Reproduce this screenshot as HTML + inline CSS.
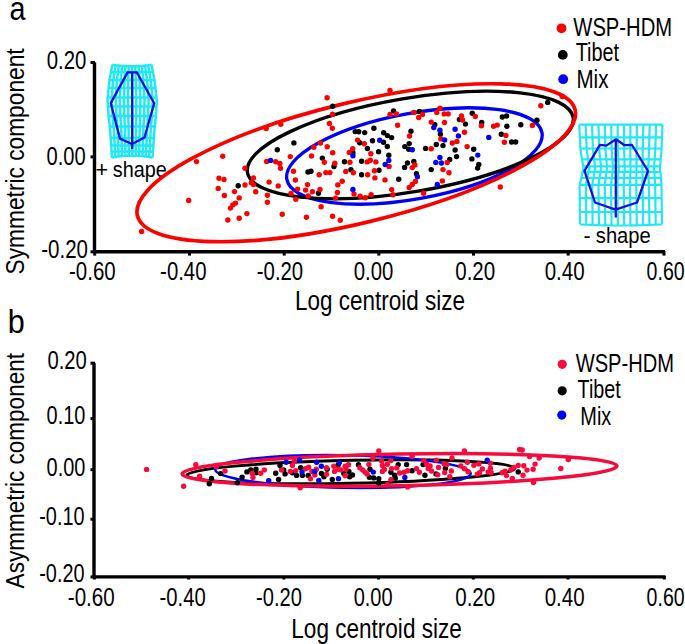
<!DOCTYPE html>
<html><head><meta charset="utf-8"><style>
html,body{margin:0;padding:0;background:#fff;}
svg{display:block;}
text{font-family:"Liberation Sans",sans-serif;fill:#000;}
</style></head><body>
<svg width="685" height="644" viewBox="0 0 685 644">
<rect width="685" height="644" fill="#fff"/>
<text x="9.5" y="20" font-size="33" textLength="16" lengthAdjust="spacingAndGlyphs" text-anchor="start" >a</text>
<text x="7.8" y="332.8" font-size="33" textLength="17" lengthAdjust="spacingAndGlyphs" text-anchor="start" >b</text>
<text transform="translate(23.6,274.4) rotate(-90)" font-size="26.5" textLength="226" lengthAdjust="spacingAndGlyphs">Symmetric component</text>
<text transform="translate(23.6,588.4) rotate(-90)" font-size="26.5" textLength="235.4" lengthAdjust="spacingAndGlyphs">Asymmetric component</text>
<text x="295" y="309.8" font-size="27.5" textLength="170" lengthAdjust="spacingAndGlyphs" text-anchor="start" >Log centroid size</text>
<text x="291.3" y="637.6" font-size="27.5" textLength="170.5" lengthAdjust="spacingAndGlyphs" text-anchor="start" >Log centroid size</text>
<path d="M94.5,62.5 V251.8 H665" fill="none" stroke="#000" stroke-width="3.4"/>
<path d="M90.5,62.5 H95" stroke="#000" stroke-width="3"/>
<path d="M90.5,156.9 H95" stroke="#000" stroke-width="3"/>
<path d="M90.5,251.8 H95" stroke="#000" stroke-width="3"/>
<path d="M94.7,251 V255.6" stroke="#000" stroke-width="3"/>
<path d="M189.5,251 V255.6" stroke="#000" stroke-width="3"/>
<path d="M284.2,251 V255.6" stroke="#000" stroke-width="3"/>
<path d="M378.8,251 V255.6" stroke="#000" stroke-width="3"/>
<path d="M473.5,251 V255.6" stroke="#000" stroke-width="3"/>
<path d="M568.2,251 V255.6" stroke="#000" stroke-width="3"/>
<path d="M664,251 V255.6" stroke="#000" stroke-width="3"/>
<text x="46.69" y="68.6" font-size="25" textLength="39.59" lengthAdjust="spacingAndGlyphs" >0.20</text>
<text x="46.49" y="164.6" font-size="25" textLength="39.18" lengthAdjust="spacingAndGlyphs" >0.00</text>
<text x="41.20" y="257.8" font-size="25" textLength="46.77" lengthAdjust="spacingAndGlyphs" >-0.20</text>
<text x="69.00" y="280.2" font-size="25" textLength="46.66" lengthAdjust="spacingAndGlyphs" >-0.60</text>
<text x="160.11" y="280.2" font-size="25" textLength="46.35" lengthAdjust="spacingAndGlyphs" >-0.40</text>
<text x="256.81" y="280.2" font-size="25" textLength="46.35" lengthAdjust="spacingAndGlyphs" >-0.20</text>
<text x="353.79" y="280.2" font-size="25" textLength="39.59" lengthAdjust="spacingAndGlyphs" >0.00</text>
<text x="455.28" y="280.2" font-size="25" textLength="39.91" lengthAdjust="spacingAndGlyphs" >0.20</text>
<text x="544.68" y="280.2" font-size="25" textLength="39.91" lengthAdjust="spacingAndGlyphs" >0.40</text>
<text x="646.62" y="280.2" font-size="25" textLength="38.03" lengthAdjust="spacingAndGlyphs" >0.60</text>
<path d="M94,363 V576.9 H665.5" fill="none" stroke="#000" stroke-width="3.4"/>
<path d="M90.5,363.2 H95" stroke="#000" stroke-width="3"/>
<path d="M90.5,418.6 H95" stroke="#000" stroke-width="3"/>
<path d="M90.5,469.7 H95" stroke="#000" stroke-width="3"/>
<path d="M90.5,519.2 H95" stroke="#000" stroke-width="3"/>
<path d="M90.5,576.9 H95" stroke="#000" stroke-width="3"/>
<path d="M94.5,576 V579.5" stroke="#000" stroke-width="3"/>
<path d="M188.7,576 V579.5" stroke="#000" stroke-width="3"/>
<path d="M283.9,576 V579.5" stroke="#000" stroke-width="3"/>
<path d="M378.6,576 V579.5" stroke="#000" stroke-width="3"/>
<path d="M473.3,576 V579.5" stroke="#000" stroke-width="3"/>
<path d="M568,576 V579.5" stroke="#000" stroke-width="3"/>
<path d="M664.3,576 V579.5" stroke="#000" stroke-width="3"/>
<text x="47.39" y="369.4" font-size="25" textLength="39.38" lengthAdjust="spacingAndGlyphs" >0.20</text>
<text x="46.60" y="423.8" font-size="25" textLength="38.76" lengthAdjust="spacingAndGlyphs" >0.10</text>
<text x="46.60" y="475.7" font-size="25" textLength="38.76" lengthAdjust="spacingAndGlyphs" >0.00</text>
<text x="39.23" y="524.9" font-size="25" textLength="45.32" lengthAdjust="spacingAndGlyphs" >-0.10</text>
<text x="39.23" y="581.7" font-size="25" textLength="45.32" lengthAdjust="spacingAndGlyphs" >-0.20</text>
<text x="67.79" y="605.5" font-size="25" textLength="46.98" lengthAdjust="spacingAndGlyphs" >-0.60</text>
<text x="159.61" y="605.5" font-size="25" textLength="46.15" lengthAdjust="spacingAndGlyphs" >-0.40</text>
<text x="256.12" y="605.5" font-size="25" textLength="45.84" lengthAdjust="spacingAndGlyphs" >-0.20</text>
<text x="353.70" y="605.5" font-size="25" textLength="38.86" lengthAdjust="spacingAndGlyphs" >0.00</text>
<text x="455.28" y="605.5" font-size="25" textLength="39.91" lengthAdjust="spacingAndGlyphs" >0.20</text>
<text x="544.68" y="605.5" font-size="25" textLength="39.91" lengthAdjust="spacingAndGlyphs" >0.40</text>
<text x="646.62" y="605.5" font-size="25" textLength="38.03" lengthAdjust="spacingAndGlyphs" >0.60</text>
<circle cx="561.5" cy="28.3" r="4.9" fill="#fd0000"/>
<circle cx="562.8" cy="54.9" r="4.9" fill="#000"/>
<circle cx="563.2" cy="79.2" r="4.9" fill="#0000f8"/>
<text x="573.32" y="35.8" font-size="25" textLength="98.74" lengthAdjust="spacingAndGlyphs" >WSP-HDM</text>
<text x="575.66" y="61.4" font-size="25" textLength="43.50" lengthAdjust="spacingAndGlyphs" >Tibet</text>
<text x="576.41" y="87.6" font-size="25" textLength="32.02" lengthAdjust="spacingAndGlyphs" >Mix</text>
<circle cx="562.2" cy="364.3" r="4.6" fill="#f80a3c"/>
<circle cx="562.2" cy="390.8" r="4.6" fill="#000"/>
<circle cx="561.8" cy="415.1" r="4.6" fill="#0000f8"/>
<text x="575.72" y="371.9" font-size="25" textLength="98.33" lengthAdjust="spacingAndGlyphs" >WSP-HDM</text>
<text x="577.57" y="398.4" font-size="25" textLength="43.19" lengthAdjust="spacingAndGlyphs" >Tibet</text>
<text x="580.37" y="424.5" font-size="25" textLength="30.95" lengthAdjust="spacingAndGlyphs" >Mix</text>
<path d="M112.4,64.8 L115.7,65.3 L118.9,65.6 L122.2,65.9 L125.4,66.1 L128.7,66.3 L131.9,66.3 L135.2,66.3 L138.5,66.1 L141.7,65.9 L145.0,65.6 L148.2,65.3 L151.5,64.8 M111.0,72.0 L114.5,72.0 L118.0,72.0 L121.5,72.0 L125.0,72.0 L128.5,72.0 L132.0,72.0 L135.5,72.0 L139.0,72.0 L142.4,72.0 L145.9,72.0 L149.4,72.0 L152.9,72.0 M109.5,80.0 L113.2,80.0 L117.0,80.0 L120.8,80.0 L124.5,80.0 L128.2,80.0 L132.0,80.0 L135.8,80.0 L139.5,80.0 L143.2,80.0 L147.0,80.0 L150.8,80.0 L154.5,80.0 M108.7,88.0 L112.6,88.0 L116.5,88.0 L120.4,88.0 L124.3,88.0 L128.2,88.0 L132.1,88.0 L136.0,88.0 L139.8,88.0 L143.7,88.0 L147.6,88.0 L151.5,88.0 L155.4,88.0 M107.8,97.5 L111.8,97.5 L115.9,97.5 L119.9,97.5 L124.0,97.5 L128.1,97.5 L132.1,97.5 L136.2,97.5 L140.3,97.5 L144.3,97.5 L148.4,97.5 L152.4,97.5 L156.5,97.5 M107.9,106.5 L112.0,106.5 L116.0,106.5 L120.1,106.5 L124.1,106.5 L128.2,106.5 L132.2,106.5 L136.2,106.5 L140.3,106.5 L144.3,106.5 L148.4,106.5 L152.4,106.5 L156.5,106.5 M108.6,116.0 L112.6,116.0 L116.5,116.0 L120.4,116.0 L124.4,116.0 L128.3,116.0 L132.3,116.0 L136.2,116.0 L140.1,116.0 L144.1,116.0 L148.0,116.0 L152.0,116.0 L155.9,116.0 M109.8,126.5 L113.6,126.5 L117.3,126.5 L121.0,126.5 L124.8,126.5 L128.5,126.5 L132.3,126.5 L136.0,126.5 L139.8,126.5 L143.5,126.5 L147.3,126.5 L151.0,126.5 L154.8,126.5 M110.7,138.0 L114.3,138.0 L117.9,138.0 L121.5,138.0 L125.1,138.0 L128.7,138.0 L132.3,138.0 L135.9,138.0 L139.5,138.0 L143.1,138.0 L146.7,138.0 L150.3,138.0 L153.9,138.0 M111.2,145.5 L114.7,145.5 L118.2,145.5 L121.8,145.5 L125.3,145.5 L128.8,145.5 L132.3,145.5 L135.8,145.5 L139.3,145.5 L142.8,145.5 L146.4,145.5 L149.9,145.5 L153.4,145.5 M111.6,151.5 L115.0,151.5 L118.5,151.5 L121.9,151.5 L125.4,151.5 L128.8,151.5 L132.3,151.5 L135.7,151.5 L139.2,151.5 L142.6,151.5 L146.1,151.5 L149.5,151.5 L153.0,151.5 M111.8,157.6 L115.2,157.0 L118.6,156.5 L122.0,156.1 L125.4,155.8 L128.8,155.7 L132.2,155.6 L135.6,155.7 L139.0,155.8 L142.4,156.1 L145.8,156.5 L149.2,157.0 L152.6,157.6 M112.4,64.8 L111.9,67.2 L111.5,69.6 L111.0,71.9 L110.6,74.3 L110.1,76.7 L109.7,79.1 L109.4,81.5 L109.1,83.8 L108.9,86.2 L108.6,88.6 L108.4,91.0 L108.2,93.4 L107.9,95.7 L107.7,98.1 L107.5,100.5 L107.7,102.9 L107.9,105.3 L108.0,107.6 L108.2,110.0 L108.3,112.4 L108.5,114.8 L108.7,117.1 L109.0,119.5 L109.3,121.9 L109.6,124.3 L109.8,126.7 L110.1,129.0 L110.3,131.4 L110.4,133.8 L110.6,136.2 L110.8,138.6 L110.9,140.9 L111.1,143.3 L111.2,145.7 L111.4,148.1 L111.5,150.5 L111.6,152.8 L111.7,155.2 L111.8,157.6 M115.7,65.3 L115.3,67.2 L114.9,69.6 L114.5,71.9 L114.2,74.3 L113.8,76.7 L113.4,79.1 L113.1,81.5 L112.9,83.8 L112.7,86.2 L112.5,88.6 L112.3,91.0 L112.2,93.4 L112.0,95.7 L111.8,98.1 L111.6,100.5 L111.8,102.9 L111.9,105.3 L112.0,107.6 L112.2,110.0 L112.3,112.4 L112.4,114.8 L112.7,117.1 L112.9,119.5 L113.1,121.9 L113.3,124.3 L113.6,126.7 L113.8,129.0 L114.0,131.4 L114.1,133.8 L114.2,136.2 L114.3,138.6 L114.5,140.9 L114.6,143.3 L114.7,145.7 L114.9,148.1 L115.0,150.5 L115.1,152.8 L115.1,155.2 L115.2,157.0 M118.9,65.6 L118.6,67.2 L118.3,69.6 L118.0,71.9 L117.7,74.3 L117.4,76.7 L117.1,79.1 L116.9,81.5 L116.8,83.8 L116.6,86.2 L116.4,88.6 L116.3,91.0 L116.1,93.4 L116.0,95.7 L115.8,98.1 L115.7,100.5 L115.9,102.9 L116.0,105.3 L116.1,107.6 L116.2,110.0 L116.3,112.4 L116.4,114.8 L116.6,117.1 L116.8,119.5 L116.9,121.9 L117.1,124.3 L117.3,126.7 L117.5,129.0 L117.6,131.4 L117.7,133.8 L117.8,136.2 L117.9,138.6 L118.0,140.9 L118.1,143.3 L118.2,145.7 L118.4,148.1 L118.4,150.5 L118.5,152.8 L118.5,155.2 L118.6,156.5 M122.2,65.9 L122.0,67.2 L121.7,69.6 L121.5,71.9 L121.3,74.3 L121.1,76.7 L120.8,79.1 L120.7,81.5 L120.6,83.8 L120.5,86.2 L120.4,88.6 L120.2,91.0 L120.1,93.4 L120.0,95.7 L119.9,98.1 L119.8,100.5 L119.9,102.9 L120.0,105.3 L120.1,107.6 L120.2,110.0 L120.3,112.4 L120.4,114.8 L120.5,117.1 L120.6,119.5 L120.8,121.9 L120.9,124.3 L121.1,126.7 L121.2,129.0 L121.3,131.4 L121.4,133.8 L121.5,136.2 L121.5,138.6 L121.6,140.9 L121.7,143.3 L121.8,145.7 L121.8,148.1 L121.9,150.5 L121.9,152.8 L122.0,155.2 L122.0,156.1 M125.4,66.1 L125.3,67.2 L125.1,69.6 L125.0,71.9 L124.8,74.3 L124.7,76.7 L124.6,79.1 L124.5,81.5 L124.4,83.8 L124.3,86.2 L124.3,88.6 L124.2,91.0 L124.1,93.4 L124.1,95.7 L124.0,98.1 L123.9,100.5 L124.0,102.9 L124.1,105.3 L124.1,107.6 L124.2,110.0 L124.3,112.4 L124.3,114.8 L124.4,117.1 L124.5,119.5 L124.6,121.9 L124.7,124.3 L124.8,126.7 L124.9,129.0 L125.0,131.4 L125.0,133.8 L125.1,136.2 L125.1,138.6 L125.2,140.9 L125.2,143.3 L125.3,145.7 L125.3,148.1 L125.4,150.5 L125.4,152.8 L125.4,155.2 L125.4,155.8 M128.7,66.3 L128.6,67.2 L128.6,69.6 L128.5,71.9 L128.4,74.3 L128.3,76.7 L128.3,79.1 L128.2,81.5 L128.2,83.8 L128.2,86.2 L128.2,88.6 L128.1,91.0 L128.1,93.4 L128.1,95.7 L128.1,98.1 L128.0,100.5 L128.1,102.9 L128.1,105.3 L128.2,107.6 L128.2,110.0 L128.2,112.4 L128.3,114.8 L128.3,117.1 L128.4,119.5 L128.4,121.9 L128.5,124.3 L128.5,126.7 L128.6,129.0 L128.6,131.4 L128.7,133.8 L128.7,136.2 L128.7,138.6 L128.7,140.9 L128.8,143.3 L128.8,145.7 L128.8,148.1 L128.8,150.5 L128.8,152.8 L128.8,155.2 L128.8,155.7 M131.9,66.3 L132.0,67.2 L132.0,69.6 L132.0,71.9 L132.0,74.3 L132.0,76.7 L132.0,79.1 L132.0,81.5 L132.0,83.8 L132.0,86.2 L132.1,88.6 L132.1,91.0 L132.1,93.4 L132.1,95.7 L132.1,98.1 L132.2,100.5 L132.2,102.9 L132.2,105.3 L132.2,107.6 L132.2,110.0 L132.2,112.4 L132.2,114.8 L132.3,117.1 L132.3,119.5 L132.3,121.9 L132.3,124.3 L132.3,126.7 L132.3,129.0 L132.3,131.4 L132.3,133.8 L132.3,136.2 L132.3,138.6 L132.3,140.9 L132.3,143.3 L132.3,145.7 L132.3,148.1 L132.3,150.5 L132.3,152.8 L132.2,155.2 L132.2,155.6 M135.2,66.3 L135.3,67.2 L135.4,69.6 L135.5,71.9 L135.5,74.3 L135.6,76.7 L135.7,79.1 L135.8,81.5 L135.8,83.8 L135.9,86.2 L136.0,88.6 L136.0,91.0 L136.1,93.4 L136.1,95.7 L136.2,98.1 L136.3,100.5 L136.2,102.9 L136.2,105.3 L136.2,107.6 L136.2,110.0 L136.2,112.4 L136.2,114.8 L136.2,117.1 L136.1,119.5 L136.1,121.9 L136.1,124.3 L136.0,126.7 L136.0,129.0 L136.0,131.4 L135.9,133.8 L135.9,136.2 L135.9,138.6 L135.9,140.9 L135.8,143.3 L135.8,145.7 L135.8,148.1 L135.8,150.5 L135.7,152.8 L135.7,155.2 L135.6,155.7 M138.5,66.1 L138.6,67.2 L138.8,69.6 L139.0,71.9 L139.1,74.3 L139.3,76.7 L139.4,79.1 L139.6,81.5 L139.7,83.8 L139.8,86.2 L139.9,88.6 L140.0,91.0 L140.1,93.4 L140.2,95.7 L140.3,98.1 L140.4,100.5 L140.3,102.9 L140.3,105.3 L140.3,107.6 L140.2,110.0 L140.2,112.4 L140.2,114.8 L140.1,117.1 L140.0,119.5 L139.9,121.9 L139.9,124.3 L139.8,126.7 L139.7,129.0 L139.6,131.4 L139.6,133.8 L139.5,136.2 L139.5,138.6 L139.4,140.9 L139.4,143.3 L139.3,145.7 L139.3,148.1 L139.2,150.5 L139.1,152.8 L139.1,155.2 L139.0,155.8 M141.7,65.9 L142.0,67.2 L142.2,69.6 L142.4,71.9 L142.7,74.3 L142.9,76.7 L143.2,79.1 L143.3,81.5 L143.5,83.8 L143.6,86.2 L143.8,88.6 L143.9,91.0 L144.1,93.4 L144.2,95.7 L144.4,98.1 L144.5,100.5 L144.4,102.9 L144.4,105.3 L144.3,107.6 L144.2,110.0 L144.2,112.4 L144.1,114.8 L144.0,117.1 L143.9,119.5 L143.8,121.9 L143.6,124.3 L143.5,126.7 L143.4,129.0 L143.3,131.4 L143.2,133.8 L143.1,136.2 L143.1,138.6 L143.0,140.9 L142.9,143.3 L142.8,145.7 L142.8,148.1 L142.7,150.5 L142.6,152.8 L142.5,155.2 L142.4,156.1 M145.0,65.6 L145.3,67.2 L145.6,69.6 L145.9,71.9 L146.2,74.3 L146.6,76.7 L146.9,79.1 L147.1,81.5 L147.3,83.8 L147.5,86.2 L147.7,88.6 L147.9,91.0 L148.1,93.4 L148.2,95.7 L148.4,98.1 L148.6,100.5 L148.5,102.9 L148.4,105.3 L148.3,107.6 L148.2,110.0 L148.2,112.4 L148.1,114.8 L147.9,117.1 L147.8,119.5 L147.6,121.9 L147.4,124.3 L147.3,126.7 L147.1,129.0 L147.0,131.4 L146.9,133.8 L146.8,136.2 L146.7,138.6 L146.6,140.9 L146.5,143.3 L146.4,145.7 L146.2,148.1 L146.1,150.5 L146.0,152.8 L145.9,155.2 L145.8,156.5 M148.2,65.3 L148.6,67.2 L149.0,69.6 L149.4,71.9 L149.8,74.3 L150.2,76.7 L150.6,79.1 L150.9,81.5 L151.1,83.8 L151.4,86.2 L151.6,88.6 L151.8,91.0 L152.0,93.4 L152.3,95.7 L152.5,98.1 L152.7,100.5 L152.6,102.9 L152.5,105.3 L152.4,107.6 L152.3,110.0 L152.2,112.4 L152.1,114.8 L151.9,117.1 L151.6,119.5 L151.4,121.9 L151.2,124.3 L151.0,126.7 L150.8,129.0 L150.6,131.4 L150.5,133.8 L150.4,136.2 L150.3,138.6 L150.1,140.9 L150.0,143.3 L149.9,145.7 L149.7,148.1 L149.6,150.5 L149.5,152.8 L149.3,155.2 L149.2,157.0 M151.5,64.8 L152.0,67.2 L152.4,69.6 L152.9,71.9 L153.4,74.3 L153.8,76.7 L154.3,79.1 L154.7,81.5 L154.9,83.8 L155.2,86.2 L155.5,88.6 L155.8,91.0 L156.0,93.4 L156.3,95.7 L156.6,98.1 L156.8,100.5 L156.6,102.9 L156.5,105.3 L156.4,107.6 L156.3,110.0 L156.1,112.4 L156.0,114.8 L155.8,117.1 L155.5,119.5 L155.3,121.9 L155.0,124.3 L154.8,126.7 L154.5,129.0 L154.3,131.4 L154.2,133.8 L154.0,136.2 L153.8,138.6 L153.7,140.9 L153.5,143.3 L153.4,145.7 L153.2,148.1 L153.1,150.5 L152.9,152.8 L152.8,155.2 L152.6,157.6" fill="none" stroke="#22e8f6" stroke-width="2.5" stroke-linejoin="round"/>
<path d="M127.6,72.4 L136.8,72.4 L154.2,103.3 L144.5,137.5 L132,144 L120,138.6 L110.8,103.1 Z M132.2,72.4 V148.9" fill="none" stroke="#1010dc" stroke-width="2.3" stroke-linejoin="round"/>
<path d="M579.2,124.6 L585.6,124.6 L592.0,124.6 L598.4,124.6 L604.8,124.6 L611.2,124.6 L617.6,124.6 L624.1,124.6 L630.5,124.6 L636.9,124.6 L643.3,124.6 L649.7,124.6 L656.1,124.6 L662.5,124.6 M579.9,137.3 L586.2,137.3 L592.5,137.3 L598.8,137.3 L605.1,137.3 L611.4,137.3 L617.8,137.3 L624.1,137.3 L630.4,137.3 L636.7,137.3 L643.0,137.3 L649.4,137.3 L655.7,137.3 L662.0,137.3 M580.4,148.5 L586.7,148.5 L592.9,148.5 L599.1,148.5 L605.4,148.5 L611.6,148.5 L617.9,148.5 L624.1,148.5 L630.4,148.5 L636.6,148.5 L642.8,148.5 L649.1,148.5 L655.3,148.5 L661.6,148.5 M582.0,159.3 L588.1,159.3 L594.2,159.3 L600.2,159.3 L606.3,159.3 L612.3,159.3 L618.4,159.3 L624.4,159.3 L630.5,159.3 L636.5,159.3 L642.6,159.3 L648.6,159.3 L654.7,159.3 L660.7,159.3 M583.2,166.3 L589.1,166.3 L595.1,166.3 L601.0,166.3 L606.9,166.3 L612.8,166.3 L618.7,166.3 L624.6,166.3 L630.6,166.3 L636.5,166.3 L642.4,166.3 L648.3,166.3 L654.2,166.3 L660.1,166.3 M582.6,171.8 L588.6,171.8 L594.6,171.8 L600.6,171.8 L606.5,171.8 L612.5,171.8 L618.5,171.8 L624.5,171.8 L630.4,171.8 L636.4,171.8 L642.4,171.8 L648.4,171.8 L654.4,171.8 L660.3,171.8 M581.2,178.0 L587.3,178.0 L593.5,178.0 L599.6,178.0 L605.7,178.0 L611.9,178.0 L618.0,178.0 L624.1,178.0 L630.2,178.0 L636.4,178.0 L642.5,178.0 L648.6,178.0 L654.8,178.0 L660.9,178.0 M579.6,184.8 L585.9,184.8 L592.2,184.8 L598.5,184.8 L604.8,184.8 L611.1,184.8 L617.4,184.8 L623.7,184.8 L630.0,184.8 L636.3,184.8 L642.6,184.8 L648.9,184.8 L655.2,184.8 L661.5,184.8 M579.7,198.1 L586.0,198.1 L592.3,198.1 L598.6,198.1 L604.9,198.1 L611.2,198.1 L617.5,198.1 L623.9,198.1 L630.2,198.1 L636.5,198.1 L642.8,198.1 L649.1,198.1 L655.4,198.1 L661.7,198.1 M579.9,212.0 L586.2,212.0 L592.5,212.0 L598.8,212.0 L605.1,212.0 L611.4,212.0 L617.7,212.0 L624.0,212.0 L630.3,212.0 L636.6,212.0 L642.9,212.0 L649.2,212.0 L655.5,212.0 L661.8,212.0 M580.0,224.3 L586.3,224.6 L592.6,224.9 L598.9,225.2 L605.2,225.3 L611.5,225.4 L617.8,225.5 L624.2,225.5 L630.5,225.4 L636.8,225.3 L643.1,225.2 L649.4,224.9 L655.7,224.6 L662.0,224.3 M579.2,124.6 L579.3,127.2 L579.5,129.7 L579.6,132.3 L579.7,134.8 L579.9,137.4 L580.0,139.9 L580.1,142.5 L580.2,145.1 L580.4,147.6 L580.5,150.2 L581.0,152.7 L581.4,155.3 L581.8,157.8 L582.2,160.4 L582.7,162.9 L583.1,165.5 L583.5,168.1 L582.9,170.6 L582.3,173.2 L581.7,175.7 L581.1,178.3 L580.6,180.8 L580.0,183.4 L579.6,186.0 L579.6,188.5 L579.7,191.1 L579.7,193.6 L579.7,196.2 L579.7,198.7 L579.8,201.3 L579.8,203.8 L579.8,206.4 L579.8,209.0 L579.9,211.5 L579.9,214.1 L579.9,216.6 L579.9,219.2 L580.0,221.7 L580.0,224.3 M585.6,124.6 L585.7,127.2 L585.8,129.7 L585.9,132.3 L586.1,134.8 L586.2,137.4 L586.3,139.9 L586.4,142.5 L586.5,145.1 L586.6,147.6 L586.8,150.2 L587.1,152.7 L587.5,155.3 L587.9,157.8 L588.3,160.4 L588.6,162.9 L589.0,165.5 L589.4,168.1 L588.8,170.6 L588.3,173.2 L587.8,175.7 L587.3,178.3 L586.8,180.8 L586.2,183.4 L585.9,186.0 L585.9,188.5 L586.0,191.1 L586.0,193.6 L586.0,196.2 L586.0,198.7 L586.1,201.3 L586.1,203.8 L586.1,206.4 L586.1,209.0 L586.2,211.5 L586.2,214.1 L586.2,216.6 L586.3,219.2 L586.3,221.7 L586.3,224.6 M592.0,124.6 L592.1,127.2 L592.2,129.7 L592.3,132.3 L592.4,134.8 L592.5,137.4 L592.6,139.9 L592.7,142.5 L592.8,145.1 L592.9,147.6 L593.0,150.2 L593.3,152.7 L593.6,155.3 L594.0,157.8 L594.3,160.4 L594.6,162.9 L594.9,165.5 L595.3,168.1 L594.8,170.6 L594.3,173.2 L593.9,175.7 L593.4,178.3 L593.0,180.8 L592.5,183.4 L592.2,186.0 L592.2,188.5 L592.3,191.1 L592.3,193.6 L592.3,196.2 L592.3,198.7 L592.4,201.3 L592.4,203.8 L592.4,206.4 L592.5,209.0 L592.5,211.5 L592.5,214.1 L592.5,216.6 L592.6,219.2 L592.6,221.7 L592.6,224.9 M598.4,124.6 L598.5,127.2 L598.6,129.7 L598.7,132.3 L598.7,134.8 L598.8,137.4 L598.9,139.9 L599.0,142.5 L599.0,145.1 L599.1,147.6 L599.2,150.2 L599.5,152.7 L599.8,155.3 L600.0,157.8 L600.3,160.4 L600.6,162.9 L600.9,165.5 L601.1,168.1 L600.7,170.6 L600.3,173.2 L599.9,175.7 L599.5,178.3 L599.1,180.8 L598.8,183.4 L598.5,186.0 L598.5,188.5 L598.6,191.1 L598.6,193.6 L598.6,196.2 L598.6,198.7 L598.7,201.3 L598.7,203.8 L598.7,206.4 L598.8,209.0 L598.8,211.5 L598.8,214.1 L598.8,216.6 L598.9,219.2 L598.9,221.7 L598.9,225.2 M604.8,124.6 L604.9,127.2 L604.9,129.7 L605.0,132.3 L605.1,134.8 L605.1,137.4 L605.2,139.9 L605.2,142.5 L605.3,145.1 L605.4,147.6 L605.4,150.2 L605.7,152.7 L605.9,155.3 L606.1,157.8 L606.4,160.4 L606.6,162.9 L606.8,165.5 L607.0,168.1 L606.7,170.6 L606.4,173.2 L606.0,175.7 L605.7,178.3 L605.3,180.8 L605.0,183.4 L604.8,186.0 L604.8,188.5 L604.9,191.1 L604.9,193.6 L604.9,196.2 L605.0,198.7 L605.0,201.3 L605.0,203.8 L605.0,206.4 L605.1,209.0 L605.1,211.5 L605.1,214.1 L605.1,216.6 L605.2,219.2 L605.2,221.7 L605.2,225.3 M611.2,124.6 L611.3,127.2 L611.3,129.7 L611.4,132.3 L611.4,134.8 L611.4,137.4 L611.5,139.9 L611.5,142.5 L611.6,145.1 L611.6,147.6 L611.7,150.2 L611.8,152.7 L612.0,155.3 L612.2,157.8 L612.4,160.4 L612.6,162.9 L612.7,165.5 L612.9,168.1 L612.6,170.6 L612.4,173.2 L612.1,175.7 L611.8,178.3 L611.5,180.8 L611.3,183.4 L611.1,186.0 L611.1,188.5 L611.2,191.1 L611.2,193.6 L611.2,196.2 L611.3,198.7 L611.3,201.3 L611.3,203.8 L611.3,206.4 L611.4,209.0 L611.4,211.5 L611.4,214.1 L611.5,216.6 L611.5,219.2 L611.5,221.7 L611.5,225.4 M617.6,124.6 L617.7,127.2 L617.7,129.7 L617.7,132.3 L617.7,134.8 L617.8,137.4 L617.8,139.9 L617.8,142.5 L617.8,145.1 L617.9,147.6 L617.9,150.2 L618.0,152.7 L618.2,155.3 L618.3,157.8 L618.4,160.4 L618.5,162.9 L618.7,165.5 L618.8,168.1 L618.6,170.6 L618.4,173.2 L618.2,175.7 L618.0,178.3 L617.7,180.8 L617.5,183.4 L617.4,186.0 L617.4,188.5 L617.5,191.1 L617.5,193.6 L617.5,196.2 L617.6,198.7 L617.6,201.3 L617.6,203.8 L617.6,206.4 L617.7,209.0 L617.7,211.5 L617.7,214.1 L617.8,216.6 L617.8,219.2 L617.8,221.7 L617.8,225.5 M624.1,124.6 L624.1,127.2 L624.1,129.7 L624.1,132.3 L624.1,134.8 L624.1,137.4 L624.1,139.9 L624.1,142.5 L624.1,145.1 L624.1,147.6 L624.1,150.2 L624.2,152.7 L624.3,155.3 L624.4,157.8 L624.4,160.4 L624.5,162.9 L624.6,165.5 L624.7,168.1 L624.5,170.6 L624.4,173.2 L624.2,175.7 L624.1,178.3 L623.9,180.8 L623.8,183.4 L623.7,186.0 L623.7,188.5 L623.8,191.1 L623.8,193.6 L623.8,196.2 L623.9,198.7 L623.9,201.3 L623.9,203.8 L623.9,206.4 L624.0,209.0 L624.0,211.5 L624.0,214.1 L624.1,216.6 L624.1,219.2 L624.1,221.7 L624.2,225.5 M630.5,124.6 L630.4,127.2 L630.4,129.7 L630.4,132.3 L630.4,134.8 L630.4,137.4 L630.4,139.9 L630.4,142.5 L630.4,145.1 L630.4,147.6 L630.3,150.2 L630.4,152.7 L630.4,155.3 L630.4,157.8 L630.5,160.4 L630.5,162.9 L630.5,165.5 L630.6,168.1 L630.5,170.6 L630.4,173.2 L630.3,175.7 L630.2,178.3 L630.1,180.8 L630.1,183.4 L630.0,186.0 L630.0,188.5 L630.1,191.1 L630.1,193.6 L630.1,196.2 L630.2,198.7 L630.2,201.3 L630.2,203.8 L630.3,206.4 L630.3,209.0 L630.3,211.5 L630.3,214.1 L630.4,216.6 L630.4,219.2 L630.4,221.7 L630.5,225.4 M636.9,124.6 L636.8,127.2 L636.8,129.7 L636.8,132.3 L636.8,134.8 L636.7,137.4 L636.7,139.9 L636.7,142.5 L636.6,145.1 L636.6,147.6 L636.6,150.2 L636.6,152.7 L636.5,155.3 L636.5,157.8 L636.5,160.4 L636.5,162.9 L636.5,165.5 L636.5,168.1 L636.4,170.6 L636.4,173.2 L636.4,175.7 L636.4,178.3 L636.3,180.8 L636.3,183.4 L636.3,186.0 L636.3,188.5 L636.4,191.1 L636.4,193.6 L636.4,196.2 L636.5,198.7 L636.5,201.3 L636.5,203.8 L636.6,206.4 L636.6,209.0 L636.6,211.5 L636.6,214.1 L636.7,216.6 L636.7,219.2 L636.7,221.7 L636.8,225.3 M643.3,124.6 L643.2,127.2 L643.2,129.7 L643.1,132.3 L643.1,134.8 L643.0,137.4 L643.0,139.9 L642.9,142.5 L642.9,145.1 L642.9,147.6 L642.8,150.2 L642.7,152.7 L642.7,155.3 L642.6,157.8 L642.5,160.4 L642.5,162.9 L642.4,165.5 L642.3,168.1 L642.4,170.6 L642.4,173.2 L642.5,175.7 L642.5,178.3 L642.5,180.8 L642.6,183.4 L642.6,186.0 L642.6,188.5 L642.7,191.1 L642.7,193.6 L642.7,196.2 L642.8,198.7 L642.8,201.3 L642.8,203.8 L642.9,206.4 L642.9,209.0 L642.9,211.5 L643.0,214.1 L643.0,216.6 L643.0,219.2 L643.0,221.7 L643.1,225.2 M649.7,124.6 L649.6,127.2 L649.6,129.7 L649.5,132.3 L649.4,134.8 L649.4,137.4 L649.3,139.9 L649.2,142.5 L649.2,145.1 L649.1,147.6 L649.0,150.2 L648.9,152.7 L648.8,155.3 L648.7,157.8 L648.6,160.4 L648.5,162.9 L648.3,165.5 L648.2,168.1 L648.3,170.6 L648.4,173.2 L648.5,175.7 L648.6,178.3 L648.7,180.8 L648.8,183.4 L648.9,186.0 L648.9,188.5 L649.0,191.1 L649.0,193.6 L649.0,196.2 L649.1,198.7 L649.1,201.3 L649.1,203.8 L649.2,206.4 L649.2,209.0 L649.2,211.5 L649.3,214.1 L649.3,216.6 L649.3,219.2 L649.4,221.7 L649.4,224.9 M656.1,124.6 L656.0,127.2 L655.9,129.7 L655.8,132.3 L655.8,134.8 L655.7,137.4 L655.6,139.9 L655.5,142.5 L655.4,145.1 L655.3,147.6 L655.3,150.2 L655.1,152.7 L654.9,155.3 L654.8,157.8 L654.6,160.4 L654.4,162.9 L654.3,165.5 L654.1,168.1 L654.3,170.6 L654.4,173.2 L654.6,175.7 L654.8,178.3 L654.9,180.8 L655.1,183.4 L655.2,186.0 L655.2,188.5 L655.3,191.1 L655.3,193.6 L655.3,196.2 L655.4,198.7 L655.4,201.3 L655.4,203.8 L655.5,206.4 L655.5,209.0 L655.5,211.5 L655.6,214.1 L655.6,216.6 L655.6,219.2 L655.7,221.7 L655.7,224.6 M662.5,124.6 L662.4,127.2 L662.3,129.7 L662.2,132.3 L662.1,134.8 L662.0,137.4 L661.9,139.9 L661.8,142.5 L661.7,145.1 L661.6,147.6 L661.5,150.2 L661.3,152.7 L661.1,155.3 L660.8,157.8 L660.6,160.4 L660.4,162.9 L660.2,165.5 L660.0,168.1 L660.2,170.6 L660.5,173.2 L660.7,175.7 L660.9,178.3 L661.1,180.8 L661.4,183.4 L661.5,186.0 L661.5,188.5 L661.6,191.1 L661.6,193.6 L661.6,196.2 L661.7,198.7 L661.7,201.3 L661.7,203.8 L661.8,206.4 L661.8,209.0 L661.8,211.5 L661.9,214.1 L661.9,216.6 L661.9,219.2 L662.0,221.7 L662.0,224.3" fill="none" stroke="#22e8f6" stroke-width="2.2" stroke-linejoin="round"/>
<path d="M616,139.3 L606.3,145.6 L599.9,144.8 L584.5,170.8 L595,202.5 L615.5,209.7 L637,202.5 L648,171 L632,145 L624.5,145.2 Z M615.8,139.3 V217.6" fill="none" stroke="#1010dc" stroke-width="2.3" stroke-linejoin="round"/>
<text x="95.6" y="176.8" font-size="21.4" text-anchor="start" >+</text>
<text x="112.8" y="177" font-size="22.5" textLength="54" lengthAdjust="spacingAndGlyphs" text-anchor="start" >shape</text>
<text x="583.5" y="243.2" font-size="21.4" text-anchor="start" >-</text>
<text x="595.8" y="243.2" font-size="22" textLength="55" lengthAdjust="spacingAndGlyphs" text-anchor="start" >shape</text>
<ellipse cx="414.41" cy="156.0" rx="129.69" ry="42.78" transform="rotate(-10.38 414.41 156.0)" fill="none" stroke="#0000f8" stroke-width="3.3"/>
<ellipse cx="410.29" cy="144.97" rx="165.17" ry="46.79" transform="rotate(-9.61 410.29 144.97)" fill="none" stroke="#000" stroke-width="3.4"/>
<ellipse cx="356.26" cy="162.74" rx="225.17" ry="60.29" transform="rotate(-13.6 356.26 162.74)" fill="none" stroke="#fd0000" stroke-width="3.7"/>
<ellipse cx="350.79" cy="471.82" rx="164.13" ry="11.5" transform="rotate(-1.2 350.79 471.82)" fill="none" stroke="#000" stroke-width="3"/>
<ellipse cx="343" cy="471.5" rx="127.8" ry="16.3" transform="rotate(0.9 343 471.5)" fill="none" stroke="#0000f8" stroke-width="2.5"/>
<ellipse cx="399.55" cy="469.95" rx="217.44" ry="15.83" transform="rotate(-1.05 399.55 469.95)" fill="none" stroke="#f80a3c" stroke-width="3.5"/>
<circle cx="238.2" cy="185.8" r="2.7" fill="#000"/>
<circle cx="308.0" cy="172.0" r="2.7" fill="#000"/>
<circle cx="277.3" cy="149.8" r="2.7" fill="#000"/>
<circle cx="311" cy="171.2" r="2.7" fill="#000"/>
<circle cx="293.9" cy="142.9" r="2.7" fill="#000"/>
<circle cx="332.7" cy="106.3" r="2.7" fill="#000"/>
<circle cx="393.5" cy="111" r="2.7" fill="#000"/>
<circle cx="373.9" cy="128.2" r="2.7" fill="#000"/>
<circle cx="355.2" cy="131.6" r="2.7" fill="#000"/>
<circle cx="358.7" cy="131.8" r="2.7" fill="#000"/>
<circle cx="364.7" cy="132.6" r="2.7" fill="#000"/>
<circle cx="383.7" cy="132.7" r="2.7" fill="#000"/>
<circle cx="387.4" cy="135.6" r="2.7" fill="#000"/>
<circle cx="391.6" cy="137.6" r="2.7" fill="#000"/>
<circle cx="372.5" cy="140.8" r="2.7" fill="#000"/>
<circle cx="359.7" cy="142.8" r="2.7" fill="#000"/>
<circle cx="383.5" cy="142.3" r="2.7" fill="#000"/>
<circle cx="387.3" cy="146.5" r="2.7" fill="#000"/>
<circle cx="404.8" cy="146.6" r="2.7" fill="#000"/>
<circle cx="367.4" cy="148.5" r="2.7" fill="#000"/>
<circle cx="378.6" cy="151.7" r="2.7" fill="#000"/>
<circle cx="322.3" cy="158.1" r="2.7" fill="#000"/>
<circle cx="334" cy="166.5" r="2.7" fill="#000"/>
<circle cx="344.5" cy="161.8" r="2.7" fill="#000"/>
<circle cx="361.6" cy="161.3" r="2.7" fill="#000"/>
<circle cx="352.9" cy="152.7" r="2.7" fill="#000"/>
<circle cx="350.9" cy="169.7" r="2.7" fill="#000"/>
<circle cx="361.6" cy="174.8" r="2.7" fill="#000"/>
<circle cx="379" cy="170.3" r="2.7" fill="#000"/>
<circle cx="318.4" cy="193.3" r="2.7" fill="#000"/>
<circle cx="419.5" cy="111.4" r="2.7" fill="#000"/>
<circle cx="411" cy="131.3" r="2.7" fill="#000"/>
<circle cx="434.8" cy="124.6" r="2.7" fill="#000"/>
<circle cx="440.4" cy="134.3" r="2.7" fill="#000"/>
<circle cx="409.2" cy="143.6" r="2.7" fill="#000"/>
<circle cx="436.3" cy="144.5" r="2.7" fill="#000"/>
<circle cx="472.2" cy="113.2" r="2.7" fill="#000"/>
<circle cx="459.4" cy="119.5" r="2.7" fill="#000"/>
<circle cx="465.5" cy="124.1" r="2.7" fill="#000"/>
<circle cx="481.7" cy="122.4" r="2.7" fill="#000"/>
<circle cx="502.3" cy="117" r="2.7" fill="#000"/>
<circle cx="506.6" cy="116" r="2.7" fill="#000"/>
<circle cx="506.9" cy="126.2" r="2.7" fill="#000"/>
<circle cx="501.3" cy="134.3" r="2.7" fill="#000"/>
<circle cx="547.7" cy="102.4" r="2.7" fill="#000"/>
<circle cx="536.9" cy="120.3" r="2.7" fill="#000"/>
<circle cx="520.8" cy="124.8" r="2.7" fill="#000"/>
<circle cx="511.6" cy="142" r="2.7" fill="#000"/>
<circle cx="515.7" cy="142" r="2.7" fill="#000"/>
<circle cx="388.8" cy="155.3" r="2.7" fill="#000"/>
<circle cx="408.7" cy="149.2" r="2.7" fill="#000"/>
<circle cx="425.6" cy="148.4" r="2.7" fill="#000"/>
<circle cx="443" cy="145.6" r="2.7" fill="#000"/>
<circle cx="407.5" cy="163" r="2.7" fill="#000"/>
<circle cx="404.6" cy="167.4" r="2.7" fill="#000"/>
<circle cx="413.8" cy="161.5" r="2.7" fill="#000"/>
<circle cx="398.7" cy="179.3" r="2.7" fill="#000"/>
<circle cx="416.4" cy="173.7" r="2.7" fill="#000"/>
<circle cx="431.2" cy="169.6" r="2.7" fill="#000"/>
<circle cx="455.1" cy="150" r="2.7" fill="#000"/>
<circle cx="456.6" cy="156.6" r="2.7" fill="#000"/>
<circle cx="449.7" cy="159.4" r="2.7" fill="#000"/>
<circle cx="473.7" cy="149.2" r="2.7" fill="#000"/>
<circle cx="471.9" cy="158.9" r="2.7" fill="#000"/>
<circle cx="478.8" cy="164.5" r="2.7" fill="#000"/>
<circle cx="477.6" cy="168.1" r="2.7" fill="#000"/>
<circle cx="196.5" cy="161.6" r="2.7" fill="#fd0000"/>
<circle cx="222.7" cy="156.2" r="2.7" fill="#fd0000"/>
<circle cx="188.7" cy="200.5" r="2.7" fill="#fd0000"/>
<circle cx="141.6" cy="231.5" r="2.7" fill="#fd0000"/>
<circle cx="219" cy="178.3" r="2.7" fill="#fd0000"/>
<circle cx="224" cy="179.5" r="2.7" fill="#fd0000"/>
<circle cx="218.2" cy="188.4" r="2.7" fill="#fd0000"/>
<circle cx="224.4" cy="195.5" r="2.7" fill="#fd0000"/>
<circle cx="230.4" cy="208.1" r="2.7" fill="#fd0000"/>
<circle cx="227.8" cy="220.0" r="2.7" fill="#fd0000"/>
<circle cx="245" cy="168.2" r="2.7" fill="#fd0000"/>
<circle cx="266.6" cy="161.4" r="2.7" fill="#fd0000"/>
<circle cx="275.7" cy="161.7" r="2.7" fill="#fd0000"/>
<circle cx="279.8" cy="163.4" r="2.7" fill="#fd0000"/>
<circle cx="280.5" cy="168.2" r="2.7" fill="#fd0000"/>
<circle cx="253.5" cy="178" r="2.7" fill="#fd0000"/>
<circle cx="251.3" cy="182.8" r="2.7" fill="#fd0000"/>
<circle cx="253.5" cy="184.6" r="2.7" fill="#fd0000"/>
<circle cx="245" cy="185" r="2.7" fill="#fd0000"/>
<circle cx="269.1" cy="182.1" r="2.7" fill="#fd0000"/>
<circle cx="278.2" cy="185.9" r="2.7" fill="#fd0000"/>
<circle cx="290.3" cy="156.6" r="2.7" fill="#fd0000"/>
<circle cx="293.5" cy="171.2" r="2.7" fill="#fd0000"/>
<circle cx="295.4" cy="180" r="2.7" fill="#fd0000"/>
<circle cx="297.6" cy="189.1" r="2.7" fill="#fd0000"/>
<circle cx="291" cy="193.5" r="2.7" fill="#fd0000"/>
<circle cx="295.8" cy="199.2" r="2.7" fill="#fd0000"/>
<circle cx="305.6" cy="190.1" r="2.7" fill="#fd0000"/>
<circle cx="307.5" cy="184.6" r="2.7" fill="#fd0000"/>
<circle cx="308.2" cy="195.9" r="2.7" fill="#fd0000"/>
<circle cx="234.5" cy="191.6" r="2.7" fill="#fd0000"/>
<circle cx="239.2" cy="197.9" r="2.7" fill="#fd0000"/>
<circle cx="235.5" cy="203.1" r="2.7" fill="#fd0000"/>
<circle cx="232.8" cy="204.9" r="2.7" fill="#fd0000"/>
<circle cx="255.7" cy="191.8" r="2.7" fill="#fd0000"/>
<circle cx="267.4" cy="195.3" r="2.7" fill="#fd0000"/>
<circle cx="267.4" cy="202.3" r="2.7" fill="#fd0000"/>
<circle cx="246.9" cy="213.6" r="2.7" fill="#fd0000"/>
<circle cx="239.2" cy="218.3" r="2.7" fill="#fd0000"/>
<circle cx="282.3" cy="214.2" r="2.7" fill="#fd0000"/>
<circle cx="306.4" cy="217.2" r="2.7" fill="#fd0000"/>
<circle cx="280.8" cy="124.2" r="2.7" fill="#fd0000"/>
<circle cx="266.2" cy="128.6" r="2.7" fill="#fd0000"/>
<circle cx="327.1" cy="97.8" r="2.7" fill="#fd0000"/>
<circle cx="390" cy="90.5" r="2.7" fill="#fd0000"/>
<circle cx="332.6" cy="114.3" r="2.7" fill="#fd0000"/>
<circle cx="329.4" cy="123.4" r="2.7" fill="#fd0000"/>
<circle cx="332.3" cy="128.2" r="2.7" fill="#fd0000"/>
<circle cx="390" cy="114.4" r="2.7" fill="#fd0000"/>
<circle cx="396.4" cy="113.9" r="2.7" fill="#fd0000"/>
<circle cx="397.6" cy="125.3" r="2.7" fill="#fd0000"/>
<circle cx="320.5" cy="143" r="2.7" fill="#fd0000"/>
<circle cx="313.8" cy="147.3" r="2.7" fill="#fd0000"/>
<circle cx="327.2" cy="146.7" r="2.7" fill="#fd0000"/>
<circle cx="357.6" cy="140.1" r="2.7" fill="#fd0000"/>
<circle cx="364.3" cy="143.8" r="2.7" fill="#fd0000"/>
<circle cx="352.7" cy="148.7" r="2.7" fill="#fd0000"/>
<circle cx="409.5" cy="136" r="2.7" fill="#fd0000"/>
<circle cx="332.7" cy="152.7" r="2.7" fill="#fd0000"/>
<circle cx="311.5" cy="156" r="2.7" fill="#fd0000"/>
<circle cx="324.3" cy="162.2" r="2.7" fill="#fd0000"/>
<circle cx="334.8" cy="163.2" r="2.7" fill="#fd0000"/>
<circle cx="349.3" cy="152.4" r="2.7" fill="#fd0000"/>
<circle cx="349.9" cy="162.2" r="2.7" fill="#fd0000"/>
<circle cx="370.8" cy="153.7" r="2.7" fill="#fd0000"/>
<circle cx="367.2" cy="161.9" r="2.7" fill="#fd0000"/>
<circle cx="370.3" cy="160.3" r="2.7" fill="#fd0000"/>
<circle cx="375.9" cy="161.9" r="2.7" fill="#fd0000"/>
<circle cx="319.2" cy="174.8" r="2.7" fill="#fd0000"/>
<circle cx="325.8" cy="172.6" r="2.7" fill="#fd0000"/>
<circle cx="329.9" cy="172.6" r="2.7" fill="#fd0000"/>
<circle cx="345.8" cy="171.4" r="2.7" fill="#fd0000"/>
<circle cx="353.4" cy="172.8" r="2.7" fill="#fd0000"/>
<circle cx="367.7" cy="174.8" r="2.7" fill="#fd0000"/>
<circle cx="374.4" cy="170.8" r="2.7" fill="#fd0000"/>
<circle cx="374.9" cy="177.9" r="2.7" fill="#fd0000"/>
<circle cx="342.2" cy="181.3" r="2.7" fill="#fd0000"/>
<circle cx="337.8" cy="184.9" r="2.7" fill="#fd0000"/>
<circle cx="320" cy="189.5" r="2.7" fill="#fd0000"/>
<circle cx="312.4" cy="191.8" r="2.7" fill="#fd0000"/>
<circle cx="337.4" cy="192.5" r="2.7" fill="#fd0000"/>
<circle cx="371.1" cy="194.8" r="2.7" fill="#fd0000"/>
<circle cx="354" cy="194" r="2.7" fill="#fd0000"/>
<circle cx="413.8" cy="112.4" r="2.7" fill="#fd0000"/>
<circle cx="422.5" cy="114.4" r="2.7" fill="#fd0000"/>
<circle cx="418.7" cy="117.5" r="2.7" fill="#fd0000"/>
<circle cx="436.8" cy="112.4" r="2.7" fill="#fd0000"/>
<circle cx="439.9" cy="108.3" r="2.7" fill="#fd0000"/>
<circle cx="444.2" cy="113.9" r="2.7" fill="#fd0000"/>
<circle cx="431.2" cy="122.1" r="2.7" fill="#fd0000"/>
<circle cx="444.5" cy="122.5" r="2.7" fill="#fd0000"/>
<circle cx="440.9" cy="138.9" r="2.7" fill="#fd0000"/>
<circle cx="448.2" cy="113.9" r="2.7" fill="#fd0000"/>
<circle cx="461.5" cy="116" r="2.7" fill="#fd0000"/>
<circle cx="462.5" cy="120" r="2.7" fill="#fd0000"/>
<circle cx="475.3" cy="116.5" r="2.7" fill="#fd0000"/>
<circle cx="481.4" cy="125.7" r="2.7" fill="#fd0000"/>
<circle cx="493.6" cy="126.2" r="2.7" fill="#fd0000"/>
<circle cx="497.2" cy="125.1" r="2.7" fill="#fd0000"/>
<circle cx="464.5" cy="132.3" r="2.7" fill="#fd0000"/>
<circle cx="456.9" cy="141.5" r="2.7" fill="#fd0000"/>
<circle cx="452.3" cy="143" r="2.7" fill="#fd0000"/>
<circle cx="505.9" cy="135.4" r="2.7" fill="#fd0000"/>
<circle cx="504.4" cy="142.3" r="2.7" fill="#fd0000"/>
<circle cx="540.8" cy="105.7" r="2.7" fill="#fd0000"/>
<circle cx="532.4" cy="125.5" r="2.7" fill="#fd0000"/>
<circle cx="562.2" cy="96.5" r="2.7" fill="#fd0000"/>
<circle cx="431.2" cy="148.7" r="2.7" fill="#fd0000"/>
<circle cx="389.1" cy="166.4" r="2.7" fill="#fd0000"/>
<circle cx="412.3" cy="167.6" r="2.7" fill="#fd0000"/>
<circle cx="414.9" cy="165" r="2.7" fill="#fd0000"/>
<circle cx="385" cy="179.9" r="2.7" fill="#fd0000"/>
<circle cx="415.4" cy="181.4" r="2.7" fill="#fd0000"/>
<circle cx="412.3" cy="184.5" r="2.7" fill="#fd0000"/>
<circle cx="409.2" cy="187.5" r="2.7" fill="#fd0000"/>
<circle cx="443" cy="169.6" r="2.7" fill="#fd0000"/>
<circle cx="442.4" cy="180.9" r="2.7" fill="#fd0000"/>
<circle cx="391.7" cy="189.6" r="2.7" fill="#fd0000"/>
<circle cx="467.1" cy="146.6" r="2.7" fill="#fd0000"/>
<circle cx="447.2" cy="162.5" r="2.7" fill="#fd0000"/>
<circle cx="449" cy="172.7" r="2.7" fill="#fd0000"/>
<circle cx="500.3" cy="187" r="2.7" fill="#fd0000"/>
<circle cx="335.5" cy="198.1" r="2.7" fill="#fd0000"/>
<circle cx="360.2" cy="196.2" r="2.7" fill="#fd0000"/>
<circle cx="365.3" cy="197.8" r="2.7" fill="#fd0000"/>
<circle cx="321.1" cy="206.7" r="2.7" fill="#fd0000"/>
<circle cx="332.6" cy="216.2" r="2.7" fill="#fd0000"/>
<circle cx="340.3" cy="220.3" r="2.7" fill="#fd0000"/>
<circle cx="393" cy="194.8" r="2.7" fill="#fd0000"/>
<circle cx="423.6" cy="193.3" r="2.7" fill="#fd0000"/>
<circle cx="270.6" cy="160.4" r="2.7" fill="#0000f8"/>
<circle cx="379.7" cy="140.2" r="2.7" fill="#0000f8"/>
<circle cx="352.9" cy="155.7" r="2.7" fill="#0000f8"/>
<circle cx="352.9" cy="189.5" r="2.7" fill="#0000f8"/>
<circle cx="433.8" cy="127.5" r="2.7" fill="#0000f8"/>
<circle cx="439.9" cy="130.3" r="2.7" fill="#0000f8"/>
<circle cx="455.1" cy="129.2" r="2.7" fill="#0000f8"/>
<circle cx="458.4" cy="135.9" r="2.7" fill="#0000f8"/>
<circle cx="488.8" cy="137.4" r="2.7" fill="#0000f8"/>
<circle cx="444.6" cy="140" r="2.7" fill="#0000f8"/>
<circle cx="412.3" cy="149.7" r="2.7" fill="#0000f8"/>
<circle cx="388.8" cy="160.4" r="2.7" fill="#0000f8"/>
<circle cx="385.2" cy="164.5" r="2.7" fill="#0000f8"/>
<circle cx="439.9" cy="157.4" r="2.7" fill="#0000f8"/>
<circle cx="435.8" cy="162.5" r="2.7" fill="#0000f8"/>
<circle cx="441.4" cy="163" r="2.7" fill="#0000f8"/>
<circle cx="417.4" cy="176.8" r="2.7" fill="#0000f8"/>
<circle cx="437.3" cy="184.5" r="2.7" fill="#0000f8"/>
<circle cx="477.8" cy="155.1" r="2.7" fill="#0000f8"/>
<circle cx="211.5" cy="478.5" r="2.7" fill="#000"/>
<circle cx="209.3" cy="483.7" r="2.7" fill="#000"/>
<circle cx="220.6" cy="473.6" r="2.7" fill="#000"/>
<circle cx="237.3" cy="482.8" r="2.7" fill="#000"/>
<circle cx="242.1" cy="477.1" r="2.7" fill="#000"/>
<circle cx="246.9" cy="471.9" r="2.7" fill="#000"/>
<circle cx="250.8" cy="469.9" r="2.7" fill="#000"/>
<circle cx="256" cy="469.2" r="2.7" fill="#000"/>
<circle cx="256" cy="472.8" r="2.7" fill="#000"/>
<circle cx="275.7" cy="473.2" r="2.7" fill="#000"/>
<circle cx="278.6" cy="479.4" r="2.7" fill="#000"/>
<circle cx="280" cy="465.5" r="2.7" fill="#000"/>
<circle cx="283.7" cy="469.9" r="2.7" fill="#000"/>
<circle cx="285.1" cy="473.9" r="2.7" fill="#000"/>
<circle cx="292.4" cy="472.8" r="2.7" fill="#000"/>
<circle cx="300.6" cy="467.7" r="2.7" fill="#000"/>
<circle cx="296.6" cy="475.4" r="2.7" fill="#000"/>
<circle cx="302.4" cy="475.4" r="2.7" fill="#000"/>
<circle cx="308.2" cy="475.4" r="2.7" fill="#000"/>
<circle cx="321.4" cy="473.5" r="2.7" fill="#000"/>
<circle cx="323.9" cy="476.8" r="2.7" fill="#000"/>
<circle cx="327.2" cy="469.2" r="2.7" fill="#000"/>
<circle cx="332.3" cy="479.4" r="2.7" fill="#000"/>
<circle cx="338.2" cy="464.8" r="2.7" fill="#000"/>
<circle cx="343.8" cy="473.5" r="2.7" fill="#000"/>
<circle cx="348.9" cy="471.4" r="2.7" fill="#000"/>
<circle cx="352.5" cy="475" r="2.7" fill="#000"/>
<circle cx="349.6" cy="476.8" r="2.7" fill="#000"/>
<circle cx="358.4" cy="464.8" r="2.7" fill="#000"/>
<circle cx="370" cy="469.2" r="2.7" fill="#000"/>
<circle cx="369.3" cy="477.2" r="2.7" fill="#000"/>
<circle cx="373.7" cy="477.9" r="2.7" fill="#000"/>
<circle cx="378.8" cy="478.7" r="2.7" fill="#000"/>
<circle cx="378.8" cy="483" r="2.7" fill="#000"/>
<circle cx="398.2" cy="464.6" r="2.7" fill="#000"/>
<circle cx="406.6" cy="464.6" r="2.7" fill="#000"/>
<circle cx="423.1" cy="464.6" r="2.7" fill="#000"/>
<circle cx="390.9" cy="472.3" r="2.7" fill="#000"/>
<circle cx="394.6" cy="475.2" r="2.7" fill="#000"/>
<circle cx="395.3" cy="478.1" r="2.7" fill="#000"/>
<circle cx="412.1" cy="470.8" r="2.7" fill="#000"/>
<circle cx="424.9" cy="475.2" r="2.7" fill="#000"/>
<circle cx="445.4" cy="468.5" r="2.7" fill="#000"/>
<circle cx="436" cy="473.9" r="2.7" fill="#000"/>
<circle cx="518.2" cy="471.9" r="2.7" fill="#000"/>
<circle cx="146.6" cy="469.4" r="2.7" fill="#f80a3c"/>
<circle cx="183.6" cy="486.3" r="2.7" fill="#f80a3c"/>
<circle cx="195.8" cy="464.7" r="2.7" fill="#f80a3c"/>
<circle cx="199.6" cy="476.3" r="2.7" fill="#f80a3c"/>
<circle cx="216.3" cy="466.6" r="2.7" fill="#f80a3c"/>
<circle cx="225" cy="471" r="2.7" fill="#f80a3c"/>
<circle cx="252.3" cy="473.5" r="2.7" fill="#f80a3c"/>
<circle cx="253" cy="477.6" r="2.7" fill="#f80a3c"/>
<circle cx="260.7" cy="473.2" r="2.7" fill="#f80a3c"/>
<circle cx="264.3" cy="469.9" r="2.7" fill="#f80a3c"/>
<circle cx="281.5" cy="469.9" r="2.7" fill="#f80a3c"/>
<circle cx="290.3" cy="471.4" r="2.7" fill="#f80a3c"/>
<circle cx="292.4" cy="465.5" r="2.7" fill="#f80a3c"/>
<circle cx="294.4" cy="461.1" r="2.7" fill="#f80a3c"/>
<circle cx="295.8" cy="470.6" r="2.7" fill="#f80a3c"/>
<circle cx="305.3" cy="468.8" r="2.7" fill="#f80a3c"/>
<circle cx="308.6" cy="467.3" r="2.7" fill="#f80a3c"/>
<circle cx="311.9" cy="471.4" r="2.7" fill="#f80a3c"/>
<circle cx="316.3" cy="469.2" r="2.7" fill="#f80a3c"/>
<circle cx="314.8" cy="475" r="2.7" fill="#f80a3c"/>
<circle cx="310.4" cy="478.7" r="2.7" fill="#f80a3c"/>
<circle cx="326.5" cy="467.7" r="2.7" fill="#f80a3c"/>
<circle cx="326.5" cy="474.3" r="2.7" fill="#f80a3c"/>
<circle cx="333.8" cy="466.2" r="2.7" fill="#f80a3c"/>
<circle cx="334.5" cy="471.4" r="2.7" fill="#f80a3c"/>
<circle cx="338.2" cy="469.2" r="2.7" fill="#f80a3c"/>
<circle cx="300.2" cy="487.8" r="2.7" fill="#f80a3c"/>
<circle cx="340.8" cy="469.9" r="2.7" fill="#f80a3c"/>
<circle cx="345.2" cy="466.2" r="2.7" fill="#f80a3c"/>
<circle cx="348.5" cy="464.8" r="2.7" fill="#f80a3c"/>
<circle cx="346" cy="469.2" r="2.7" fill="#f80a3c"/>
<circle cx="345.2" cy="475.7" r="2.7" fill="#f80a3c"/>
<circle cx="359.8" cy="467.7" r="2.7" fill="#f80a3c"/>
<circle cx="362.7" cy="469.9" r="2.7" fill="#f80a3c"/>
<circle cx="364.9" cy="472.1" r="2.7" fill="#f80a3c"/>
<circle cx="367.1" cy="473.9" r="2.7" fill="#f80a3c"/>
<circle cx="368.9" cy="464.4" r="2.7" fill="#f80a3c"/>
<circle cx="373" cy="458.2" r="2.7" fill="#f80a3c"/>
<circle cx="378.8" cy="450.9" r="2.7" fill="#f80a3c"/>
<circle cx="381.7" cy="461.1" r="2.7" fill="#f80a3c"/>
<circle cx="382.4" cy="465.5" r="2.7" fill="#f80a3c"/>
<circle cx="382.4" cy="471.4" r="2.7" fill="#f80a3c"/>
<circle cx="384.4" cy="469.4" r="2.7" fill="#f80a3c"/>
<circle cx="387.3" cy="464.2" r="2.7" fill="#f80a3c"/>
<circle cx="390.9" cy="460.6" r="2.7" fill="#f80a3c"/>
<circle cx="391.7" cy="468.6" r="2.7" fill="#f80a3c"/>
<circle cx="396.8" cy="467.9" r="2.7" fill="#f80a3c"/>
<circle cx="399.7" cy="473" r="2.7" fill="#f80a3c"/>
<circle cx="404.1" cy="472.3" r="2.7" fill="#f80a3c"/>
<circle cx="407.7" cy="470.8" r="2.7" fill="#f80a3c"/>
<circle cx="412.1" cy="456.2" r="2.7" fill="#f80a3c"/>
<circle cx="390.9" cy="479.6" r="2.7" fill="#f80a3c"/>
<circle cx="387.3" cy="484.7" r="2.7" fill="#f80a3c"/>
<circle cx="416.5" cy="468.6" r="2.7" fill="#f80a3c"/>
<circle cx="419.4" cy="472.3" r="2.7" fill="#f80a3c"/>
<circle cx="423.8" cy="460.6" r="2.7" fill="#f80a3c"/>
<circle cx="426.7" cy="464.2" r="2.7" fill="#f80a3c"/>
<circle cx="428.2" cy="468.6" r="2.7" fill="#f80a3c"/>
<circle cx="407.7" cy="486.9" r="2.7" fill="#f80a3c"/>
<circle cx="430.1" cy="465.9" r="2.7" fill="#f80a3c"/>
<circle cx="431.6" cy="471" r="2.7" fill="#f80a3c"/>
<circle cx="436.3" cy="460.1" r="2.7" fill="#f80a3c"/>
<circle cx="438.5" cy="467.4" r="2.7" fill="#f80a3c"/>
<circle cx="437.8" cy="474.7" r="2.7" fill="#f80a3c"/>
<circle cx="444" cy="463.7" r="2.7" fill="#f80a3c"/>
<circle cx="446.9" cy="464.4" r="2.7" fill="#f80a3c"/>
<circle cx="444.7" cy="472.5" r="2.7" fill="#f80a3c"/>
<circle cx="451.3" cy="471" r="2.7" fill="#f80a3c"/>
<circle cx="449.8" cy="476.8" r="2.7" fill="#f80a3c"/>
<circle cx="452" cy="457.9" r="2.7" fill="#f80a3c"/>
<circle cx="464.4" cy="450.9" r="2.7" fill="#f80a3c"/>
<circle cx="460.8" cy="465.9" r="2.7" fill="#f80a3c"/>
<circle cx="464.4" cy="468.8" r="2.7" fill="#f80a3c"/>
<circle cx="467.3" cy="462.2" r="2.7" fill="#f80a3c"/>
<circle cx="468.1" cy="471.7" r="2.7" fill="#f80a3c"/>
<circle cx="473.9" cy="465.2" r="2.7" fill="#f80a3c"/>
<circle cx="478.8" cy="463.9" r="2.7" fill="#f80a3c"/>
<circle cx="482.4" cy="469" r="2.7" fill="#f80a3c"/>
<circle cx="477.3" cy="474.1" r="2.7" fill="#f80a3c"/>
<circle cx="479.5" cy="472.7" r="2.7" fill="#f80a3c"/>
<circle cx="490.4" cy="463.2" r="2.7" fill="#f80a3c"/>
<circle cx="490.4" cy="468.3" r="2.7" fill="#f80a3c"/>
<circle cx="488.2" cy="471.9" r="2.7" fill="#f80a3c"/>
<circle cx="491.2" cy="472.7" r="2.7" fill="#f80a3c"/>
<circle cx="502.1" cy="472.7" r="2.7" fill="#f80a3c"/>
<circle cx="505" cy="471.2" r="2.7" fill="#f80a3c"/>
<circle cx="506.5" cy="475.6" r="2.7" fill="#f80a3c"/>
<circle cx="510.9" cy="469.7" r="2.7" fill="#f80a3c"/>
<circle cx="513.8" cy="467.5" r="2.7" fill="#f80a3c"/>
<circle cx="518.2" cy="465.4" r="2.7" fill="#f80a3c"/>
<circle cx="512.3" cy="478.5" r="2.7" fill="#f80a3c"/>
<circle cx="519.6" cy="449.5" r="2.7" fill="#f80a3c"/>
<circle cx="522.2" cy="450" r="2.7" fill="#f80a3c"/>
<circle cx="529.5" cy="456.5" r="2.7" fill="#f80a3c"/>
<circle cx="539.1" cy="458.1" r="2.7" fill="#f80a3c"/>
<circle cx="523.8" cy="465.7" r="2.7" fill="#f80a3c"/>
<circle cx="527" cy="470.1" r="2.7" fill="#f80a3c"/>
<circle cx="533.1" cy="469.3" r="2.7" fill="#f80a3c"/>
<circle cx="535.1" cy="464.1" r="2.7" fill="#f80a3c"/>
<circle cx="523" cy="475.3" r="2.7" fill="#f80a3c"/>
<circle cx="560.8" cy="468.5" r="2.7" fill="#f80a3c"/>
<circle cx="533.5" cy="482.6" r="2.7" fill="#f80a3c"/>
<circle cx="568.3" cy="459.6" r="2.7" fill="#f80a3c"/>
<circle cx="268.7" cy="480.8" r="2.7" fill="#0000f8"/>
<circle cx="286.2" cy="462.2" r="2.7" fill="#0000f8"/>
<circle cx="299.5" cy="460" r="2.7" fill="#0000f8"/>
<circle cx="316.6" cy="462.2" r="2.7" fill="#0000f8"/>
<circle cx="321.4" cy="466.2" r="2.7" fill="#0000f8"/>
<circle cx="314.8" cy="471.4" r="2.7" fill="#0000f8"/>
<circle cx="318.8" cy="480.5" r="2.7" fill="#0000f8"/>
<circle cx="338.5" cy="478.7" r="2.7" fill="#0000f8"/>
<circle cx="302" cy="472.1" r="2.7" fill="#0000f8"/>
<circle cx="339.4" cy="462.6" r="2.7" fill="#0000f8"/>
<circle cx="373.3" cy="472.1" r="2.7" fill="#0000f8"/>
<circle cx="404.8" cy="477.4" r="2.7" fill="#0000f8"/>
<circle cx="487.2" cy="460.2" r="2.7" fill="#0000f8"/>
</svg></body></html>
